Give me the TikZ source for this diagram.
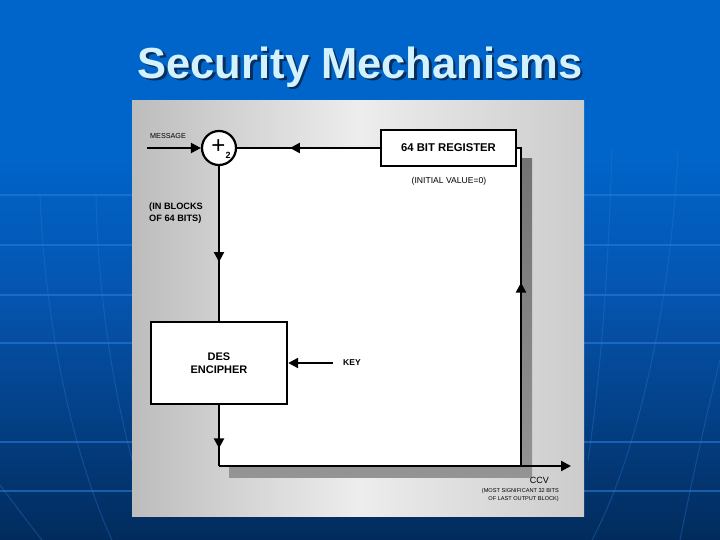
\documentclass[tikz,border=0pt]{standalone}
\usepackage{fontspec}
\setmainfont{Liberation Sans}
\usetikzlibrary{arrows.meta,decorations.markings}
\definecolor{bgtop}{HTML}{0065CA}
\definecolor{bgmid}{HTML}{0554AE}
\definecolor{bgbot}{HTML}{022B5C}
\definecolor{gridcol}{HTML}{2A7AD8}
\definecolor{titlecol}{HTML}{D2F2FF}
\definecolor{titleshadow}{HTML}{0A2D5A}
\tikzset{
  wire/.style={line width=2.2pt, draw=black},
  tip/.style={-{Triangle[length=10pt,width=10pt]}},
  midarrow/.style={postaction={decorate},
    decoration={markings, mark=at position #1 with {\arrow{Triangle[length=10pt,width=10pt]}}}},
  boxnode/.style={draw=black, line width=2.4pt, fill=white, align=center, inner sep=0pt},
  lbl/.style={text=black, align=center, inner sep=0pt},
  gridline/.style={draw=gridcol, line width=1.2pt, opacity=0.6},
  arcline/.style={draw=gridcol, line width=1pt, opacity=0.35},
}
\begin{document}
\begin{tikzpicture}[x=1pt,y=-1pt]
\useasboundingbox (0,0) rectangle (720,540);
% slide background
\fill[bgtop] (0,0) rectangle (720,150);
\shade[top color=bgtop, bottom color=bgmid] (0,149) rectangle (720,300);
\shade[top color=bgmid, bottom color=bgbot] (0,299) rectangle (720,540);
\foreach \yy in {195,245,295,343,442,491}
  \draw[gridline] (0,\yy) -- (720,\yy);
\draw[arcline] (40,195) .. controls (45,330) and (75,460) .. (112,540);
\draw[arcline] (96,195) .. controls (98,300) and (115,400) .. (135,470);
\draw[arcline] (0,485) .. controls (15,505) and (30,525) .. (42,540);
\draw[arcline] (612,150) .. controls (608,280) and (600,380) .. (588,460);
\draw[arcline] (678,150) .. controls (672,280) and (645,440) .. (592,540);
\draw[arcline] (720,360) .. controls (705,420) and (690,490) .. (680,540);
% title
\node[font=\bfseries\fontsize{43.5}{44}\selectfont, text=titleshadow, inner sep=0pt] (titleshadow) at (362.5,69.5) {Security Mechanisms};
\node[font=\bfseries\fontsize{43.5}{44}\selectfont, text=titlecol, inner sep=0pt] (title) at (360,67) {Security Mechanisms};
% panel
\shade[left color=black!26, right color=black!20, middle color=black!7] (132,101) rectangle (584,516);
% loop interior: shadow + white
\shade[top color=black!55, bottom color=black!42] (229,159) rectangle (532,477);
\fill[white] (219,148) rectangle (521,466);
% nodes
\node[draw=black, line width=2.2pt, fill=white, circle, minimum size=34pt, inner sep=0pt] (xor) at (219,148) {};
\node[inner sep=0pt] (xorlbl) at (221,149) {\fontsize{24}{24}\selectfont +\raisebox{-5pt}{\fontsize{9}{9}\selectfont\bfseries 2}};
\node[boxnode, minimum width=135pt, minimum height=36pt, font=\bfseries\fontsize{11.3}{12}\selectfont] (reg) at (448.5,148) {64 BIT REGISTER};
\node[boxnode, minimum width=136pt, minimum height=82pt, font=\bfseries\fontsize{11}{13}\selectfont] (des) at (219,363) {DES\\ENCIPHER};
\node[lbl, font=\fontsize{8.6}{10}\selectfont] (init) at (449,181) {(INITIAL VALUE=0)};
\node[lbl, font=\fontsize{7.2}{8}\selectfont, anchor=west] (msg) at (150,136) {MESSAGE};
\node[lbl, font=\bfseries\fontsize{9.2}{12}\selectfont, anchor=west, align=left] (blocks) at (149,213) {(IN BLOCKS\\OF 64 BITS)};
\node[lbl, font=\bfseries\fontsize{8.5}{10}\selectfont, anchor=west] (key) at (343,363) {KEY};
\node[lbl, font=\fontsize{9}{10}\selectfont, anchor=east] (ccv) at (549,480) {CCV};
\node[lbl, font=\fontsize{5.6}{8}\selectfont, anchor=east, align=right] (ccvnote) at (559,495) {(MOST SIGNIFICANT 32 BITS\\OF LAST OUTPUT BLOCK)};
% coordinates
\coordinate (msgstart) at (147,148);
\coordinate (keystart) at (333,363);
\coordinate (bl) at (219,466);
\coordinate (br) at (521,466);
\coordinate (tr) at (521,148);
\coordinate (outend) at (571,466);
% connectors
\draw[wire, tip] (msgstart) -- (xor.west);
\draw[wire, midarrow=0.62] (xor.south) -- (des.north);
\draw[wire, midarrow=0.71] (des.south) -- (bl);
\draw[wire] (bl) -- (br);
\draw[wire, tip] (br) -- (outend);
\draw[wire, midarrow=0.57] (br) -- (tr) -- (reg.east);
\draw[wire, midarrow=0.63] (reg.west) -- (xor.east);
\draw[wire, tip] (keystart) -- (des.east);
\end{tikzpicture}
\end{document}
